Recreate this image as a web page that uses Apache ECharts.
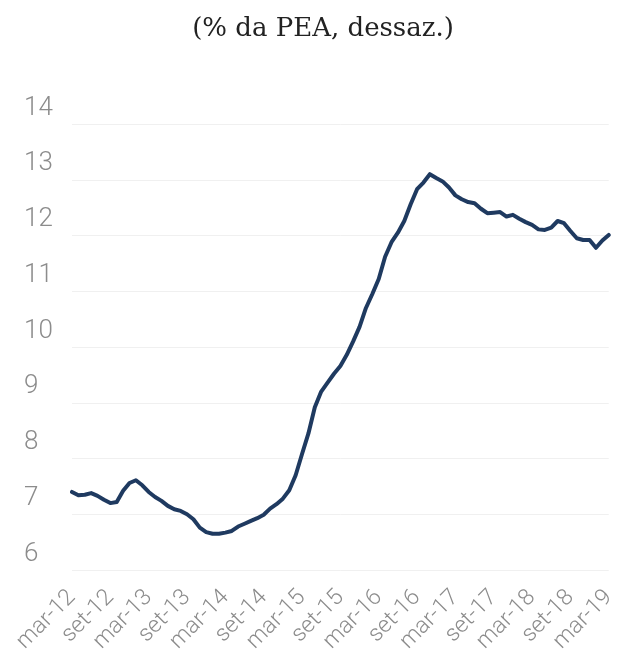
<!DOCTYPE html>
<html>
<head>
<meta charset="utf-8">
<script src="https://cdn.jsdelivr.net/npm/echarts@6/dist/echarts.min.js"></script>
<style>html,body{margin:0;padding:0;background:#fff;}#c{width:619px;height:661px;}</style>
</head>
<body>
<div id="c"></div>
<script>
var titleText = '(% da PEA, dessaz.)';
var monthNames = ['jan','fev','mar','abr','mai','jun','jul','ago','set','out','nov','dez'];
// monthly categories mar-12 .. mar-19
var categories = [];
(function(){
  for (var y = 12; y <= 19; y++) {
    for (var m = 0; m < 12; m++) {
      if (y === 12 && m < 2) continue;
      if (y === 19 && m > 2) continue;
      categories.push(monthNames[m] + '-' + y);
    }
  }
})();
var unemployment = [
  7.40, 7.34, 7.35, 7.38, 7.33, 7.26, 7.20, 7.22, 7.42, 7.56,
  7.61, 7.52, 7.40, 7.31, 7.24, 7.15, 7.09, 7.06, 7.00, 6.91,
  6.76, 6.68, 6.65, 6.65, 6.67, 6.70, 6.78, 6.83, 6.88, 6.93,
  6.99, 7.10, 7.18, 7.28, 7.43, 7.70, 8.08, 8.45, 8.92, 9.20,
  9.36, 9.52, 9.66, 9.86, 10.10, 10.36, 10.70, 10.95, 11.22, 11.62,
  11.88, 12.05, 12.26, 12.56, 12.83, 12.95, 13.10, 13.03, 12.97, 12.86,
  12.72, 12.65, 12.60, 12.58, 12.48, 12.40, 12.41, 12.42, 12.34, 12.37,
  12.30, 12.24, 12.19, 12.11, 12.10, 12.14, 12.26, 12.22, 12.08, 11.95,
  11.92, 11.92, 11.78, 11.91, 12.01
];
var yMin = 6, yMax = 14, yStep = 1;

var chart = echarts.init(document.getElementById('c'), null, {renderer: 'canvas'});
chart.setOption({
  animation: false,
  backgroundColor: '#ffffff',
  title: {
    text: titleText,
    left: 318,
    top: 11,
    textAlign: 'center',
    textStyle: {fontFamily: 'DejaVu Serif', fontSize: 26, fontWeight: 'normal', color: '#222222'}
  },
  grid: {left: 72, right: 5, top: 124, bottom: 91, containLabel: false},
  xAxis: {
    type: 'category',
    data: categories,
    boundaryGap: false,
    axisLine: {show: false},
    axisTick: {show: false},
    splitLine: {show: false},
    axisLabel: {
      interval: 5,
      rotate: 45,
      margin: 24,
      fontFamily: 'Roboto',
      fontWeight: 300,
      fontSize: 23,
      color: '#8c8c8c'
    }
  },
  yAxis: {
    type: 'value',
    min: yMin,
    max: yMax,
    interval: yStep,
    axisLine: {show: false},
    axisTick: {show: false},
    splitLine: {show: true, lineStyle: {color: '#f0f0f0', width: 1}},
    axisLabel: {
      margin: 48,
      align: 'left',
      verticalAlign: 'bottom',
      padding: [0, 0, 3, 0],
      fontFamily: 'Roboto',
      fontWeight: 300,
      fontSize: 26,
      color: '#8c8c8c'
    }
  },
  series: [{
    type: 'line',
    data: unemployment,
    symbol: 'none',
    smooth: false,
    lineStyle: {color: '#1f3a60', width: 4, join: 'round', cap: 'round'}
  }]
});
</script>
</body>
</html>
